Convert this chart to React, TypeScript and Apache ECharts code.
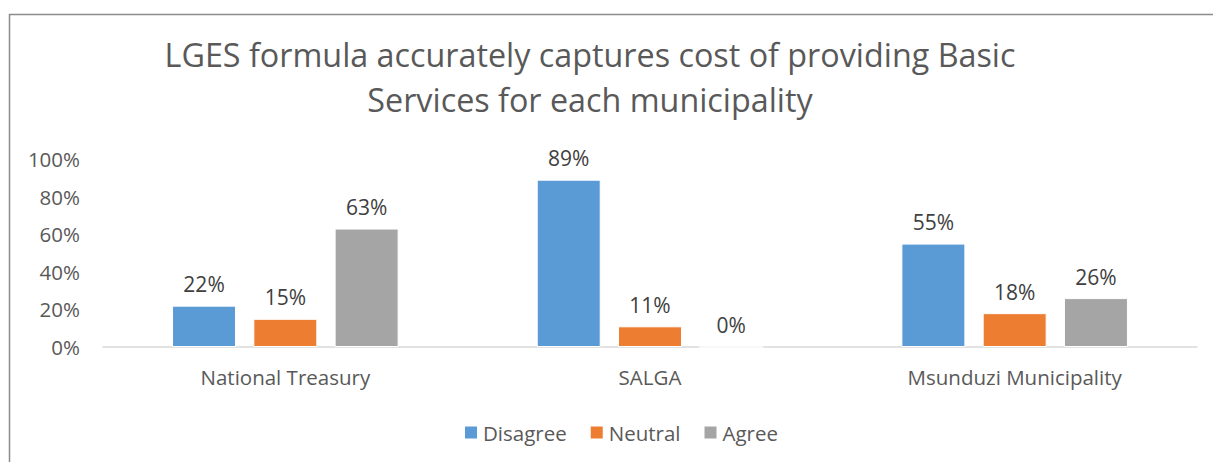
import React, { useEffect, useRef } from "react";
import * as echarts from "echarts";

const categories = ["National Treasury", "SALGA", "Msunduzi Municipality"];
const disagree = [22, 89, 55];
const neutral = [15, 11, 18];
const agree = [63, 0, 26];
const yTicks = [0, 20, 40, 60, 80, 100];

const FONT = "'Open Sans', sans-serif";
const TEXT = "#595959";

export default function App() {
  const ref = useRef<HTMLDivElement>(null);
  useEffect(() => {
    if (!ref.current) return;
    const chart = echarts.init(ref.current, null, { renderer: "svg" });
    const mkSeries = (name: string, data: number[], color: string) => ({
      name,
      type: "bar",
      data,
      barWidth: 64,
      barGap: "27%",
      itemStyle: { color, borderColor: "#ffffff", borderWidth: 1 },
      label: {
        show: true,
        position: "top",
        distance: 11,
        formatter: (p: any) => `${p.value}%`,
        color: "#404040",
        fontSize: 21,
        fontFamily: FONT,
      },
    });
    chart.setOption({
      animation: false,
      backgroundColor: "#ffffff",
      title: {
        text: "LGES formula accurately captures cost of providing Basic\nServices for each municipality",
        left: 585,
        top: 26,
        textAlign: "center",
        textStyle: {
          color: TEXT,
          fontSize: 32.3,
          fontWeight: "normal",
          fontFamily: FONT,
          lineHeight: 45,
        },
      },
      graphic: [
        {
          type: "rect",
          shape: { x: 9.5, y: 14.5, width: 1300, height: 600 },
          style: { fill: "none", stroke: "#8c8c8c", lineWidth: 1.5 },
          silent: true,
        },
      ],
      legend: {
        bottom: 14,
        left: 458,
        itemWidth: 14,
        itemHeight: 14,
        itemGap: 22,
        itemTextGap: 6,
        icon: "rect",
        textStyle: { color: TEXT, fontSize: 20.5, fontFamily: FONT },
        data: ["Disagree", "Neutral", "Agree"],
      },
      grid: { left: 103, right: 16, top: 159, bottom: 115 },
      xAxis: {
        type: "category",
        data: categories,
        axisLine: { lineStyle: { color: "#d9d9d9", width: 1.5 } },
        axisTick: { show: false },
        axisLabel: { color: TEXT, fontSize: 20.5, fontFamily: FONT, margin: 19 },
      },
      yAxis: {
        type: "value",
        min: yTicks[0],
        max: yTicks[yTicks.length - 1],
        interval: 20,
        splitLine: { show: false },
        axisLine: { show: false },
        axisTick: { show: false },
        axisLabel: {
          color: TEXT,
          fontSize: 20.5,
          fontFamily: FONT,
          margin: 23,
          formatter: (v: number) => `${v}%`,
        },
      },
      series: [
        mkSeries("Disagree", disagree, "#5b9bd5"),
        mkSeries("Neutral", neutral, "#ed7d31"),
        mkSeries("Agree", agree, "#a5a5a5"),
      ],
    });
    return () => chart.dispose();
  }, []);
  return (
    <div
      ref={ref}
      style={{ position: "fixed", left: 0, top: 0, width: 1213, height: 462 }}
    />
  );
}
